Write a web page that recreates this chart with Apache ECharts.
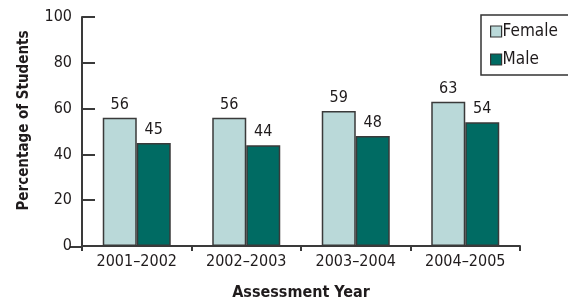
<!DOCTYPE html>
<html><head><meta charset="utf-8">
<script src="https://cdn.jsdelivr.net/npm/echarts@6/dist/echarts.min.js"></script>
<style>html,body{margin:0;padding:0;background:#fff}#c{width:568px;height:306px}</style>
</head><body><div id="c"></div>
<script>
const categories = ['2001–2002', '2002–2003', '2003–2004', '2004–2005'];
const female = [56, 56, 59, 63];
const male = [45, 44, 48, 54];
const yTicks = [0, 20, 40, 60, 80, 100];

const FONT = '"DejaVu Sans Condensed", "Liberation Sans Narrow", sans-serif';
const TXT = '#1f1b1c';
const AX = '#3a3a3a';
const chart = echarts.init(document.getElementById('c'));
chart.setOption({
  animation: false,
  textStyle: { fontFamily: FONT, color: TXT },
  grid: { left: 82, right: 48, top: 17, bottom: 59, containLabel: false },
  legend: {
    orient: 'vertical', left: 481, top: 15,
    padding: [8, 40, 7, 9], itemGap: 11, itemWidth: 11, itemHeight: 11,
    borderColor: '#333', borderWidth: 1.5,
    icon: 'rect',
    itemStyle: { borderColor: '#333', borderWidth: 1.2 },
    textStyle: { fontFamily: FONT, fontSize: 17, color: TXT, padding: [0, 0, 0, -4] },
    data: ['Female', 'Male']
  },
  xAxis: {
    type: 'category', data: categories,
    name: 'Assessment Year', nameLocation: 'middle', nameGap: 39,
    nameTextStyle: { fontFamily: FONT, fontSize: 16, fontWeight: 'bold', color: TXT },
    axisLine: { lineStyle: { color: AX, width: 2 } },
    axisTick: { show: true, length: 5, lineStyle: { color: AX, width: 2 } },
    axisLabel: { fontFamily: FONT, fontSize: 16, color: TXT, margin: 8 }
  },
  yAxis: {
    type: 'value', min: 0, max: 100, interval: 20,
    name: 'Percentage of Students', nameLocation: 'middle', nameGap: 50,
    nameTextStyle: { fontFamily: FONT, fontSize: 15, fontWeight: 'bold', color: TXT, padding: [0, 0, 0, 22] },
    axisLine: { show: true, lineStyle: { color: AX, width: 2 } },
    axisTick: { show: true, inside: true, length: 13, lineStyle: { color: AX, width: 2 } },
    axisLabel: { fontFamily: FONT, fontSize: 16, color: TXT, margin: 10,
      formatter: v => yTicks.includes(v) ? String(v) : '' },
    splitLine: { show: false }
  },
  graphic: [{ type: 'line', shape: { x1: 70, y1: 247, x2: 82, y2: 247 }, style: { stroke: AX, lineWidth: 2 } }],
  series: [
    { name: 'Female', type: 'bar', data: female, barWidth: 34, barGap: '0%',
      itemStyle: { color: '#bad9d9', borderColor: '#3a3a3a', borderWidth: 1.5 },
      label: { show: true, position: 'top', distance: 5, fontFamily: FONT, fontSize: 16, color: TXT } },
    { name: 'Male', type: 'bar', data: male, barWidth: 34,
      itemStyle: { color: '#006b63', borderColor: '#3a3a3a', borderWidth: 1.5 },
      label: { show: true, position: 'top', distance: 5, fontFamily: FONT, fontSize: 16, color: TXT } }
  ]
});
</script></body></html>
